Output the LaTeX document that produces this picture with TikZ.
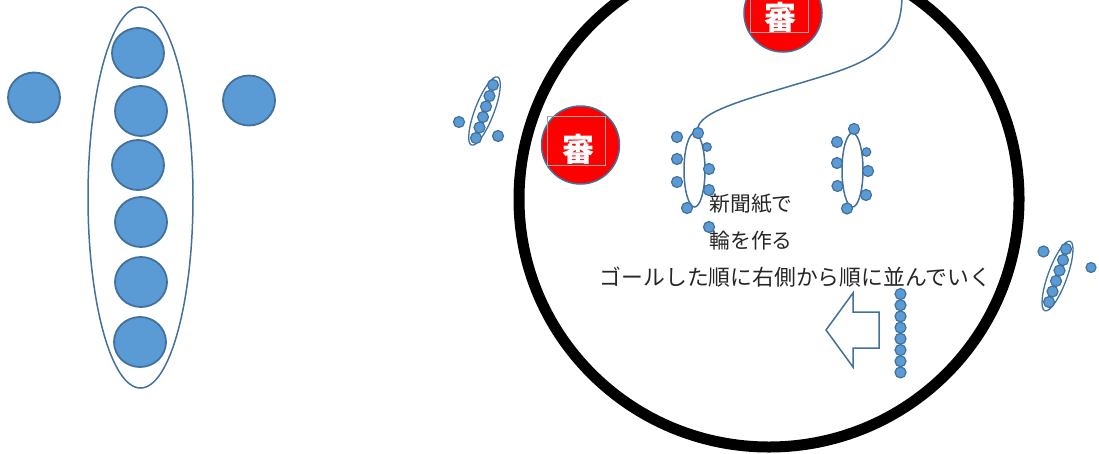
\documentclass[tikz,border=0pt]{standalone}
\usepackage{fontspec}
\newfontfamily\cjk{Noto Sans CJK JP}
\usetikzlibrary{shapes.geometric}
\definecolor{dotfill}{HTML}{5B9BD5}
\definecolor{dotline}{HTML}{41719C}
\definecolor{boxgray}{HTML}{A6A6A6}
\definecolor{textgray}{HTML}{262626}
\tikzset{
  bigdot/.style={ellipse, fill=dotfill, draw=dotline, line width=1.8pt, minimum width=52pt, minimum height=50pt, inner sep=0pt},
  dot/.style={circle, fill=dotfill, draw=dotline, line width=1.2pt, minimum size=11pt, inner sep=0pt},
  smalldot/.style={dot, minimum size=8.5pt},
  ring/.style={ellipse, draw=dotline, line width=1.5pt, inner sep=0pt},
  judge/.style={circle, fill=red, draw=dotline, line width=1.5pt, minimum size=78pt, inner sep=0pt},
  judgebox/.style={draw=boxgray, line width=1pt, minimum width=58pt, minimum height=49pt, inner sep=0pt},
  judgetext/.style={text=white, font=\cjk\bfseries\fontsize{32}{32}\selectfont, inner sep=0pt},
  label/.style={text=textgray, font=\cjk\fontsize{20.8}{21}\selectfont, inner sep=0pt},
  longlabel/.style={label, font=\cjk\fontsize{21.8}{22}\selectfont},
  arrowline/.style={draw=dotline, line width=1.5pt, line join=miter}
}
\begin{document}
\begin{tikzpicture}[x=1pt,y=-1pt]
\useasboundingbox (0,0) rectangle (1099,453);
\clip (0,0) rectangle (1099,453);
\fill[white] (0,0) rectangle (1099,453);

% big track
\draw[black, line width=11pt] (769,199) ellipse [x radius=250pt, y radius=248pt];

% left group
\node[ring, minimum width=105pt, minimum height=381pt] (lring) at (140.5,197.5) {};
\node[bigdot] (l1) at (138,53) {};
\node[bigdot] (l2) at (141,111) {};
\node[bigdot] (l3) at (138,165) {};
\node[bigdot] (l4) at (141,222) {};
\node[bigdot] (l5) at (141,282) {};
\node[bigdot] (l6) at (140,342) {};
\node[bigdot] (lL) at (34,97.5) {};
\node[bigdot] (lR) at (249,100.5) {};

% small tilted group (left)
\node[ring, minimum width=73pt, minimum height=19pt, rotate=69, line width=1.3pt] (sa) at (484.5,111) {};
\node[dot] (sa1) at (493,85) {};
\node[dot] (sa2) at (489.5,96) {};
\node[dot] (sa3) at (486,106.5) {};
\node[dot] (sa4) at (483,117) {};
\node[dot] (sa5) at (479.5,127.5) {};
\node[dot] (sa6) at (476,138) {};
\node[dot] (sa7) at (459,122) {};
\node[dot] (sa8) at (498,136) {};

% small tilted group (right)
\node[ring, minimum width=74pt, minimum height=19pt, rotate=70, line width=1.3pt] (sb) at (1057.5,276) {};
\node[dot] (sb1) at (1066,249) {};
\node[dot] (sb2) at (1063,260) {};
\node[dot] (sb3) at (1059.5,270.5) {};
\node[dot] (sb4) at (1056,281) {};
\node[dot] (sb5) at (1052.5,291.5) {};
\node[dot] (sb6) at (1049,302) {};
\node[dot] (sb7) at (1043.5,251.5) {};
\node[smalldot, minimum size=10pt] (sb8) at (1091,267.5) {};

% judges
\node[judge] (j1) at (783,13) {};
\node[judgebox] (j1b) at (779,7.5) {};
\node[judgetext] (j1t) at (780,17.5) {審};
\node[judge] (j2) at (580.5,145) {};
\node[judgebox] (j2b) at (576.5,140.5) {};
\node[judgetext] (j2t) at (578,149) {審};

% ring 1
\node[ring, minimum width=21pt, minimum height=74pt] (r1) at (694.5,170) {};
\node[dot] (r1a) at (677,137) {};
\node[dot] (r1b) at (677,159) {};
\node[dot] (r1c) at (677,182) {};
\node[dot] (r1d) at (698,133) {};
\node[smalldot] (r1e) at (707,147) {};
\node[dot] (r1f) at (709,169) {};
\node[dot] (r1g) at (709,190) {};
\node[dot] (r1h) at (687,208) {};
\node[dot] (r1i) at (709,227) {};

% ring 2
\node[ring, minimum width=21pt, minimum height=74pt] (r2) at (852.5,170) {};
\node[dot] (r2a) at (854,129) {};
\node[dot] (r2b) at (837,142) {};
\node[dot] (r2c) at (837,163) {};
\node[dot] (r2d) at (837.5,186) {};
\node[smalldot] (r2e) at (866.5,152) {};
\node[dot] (r2f) at (868,171) {};
\node[dot] (r2g) at (866,195) {};
\node[dot] (r2h) at (847,208.5) {};

% rope
\coordinate (ropeend) at (902,-3);
\draw[dotline, line width=1.5pt] (r1d.north) .. controls (704,108) and (760,96) .. (830,74)
  .. controls (880,58) and (901,40) .. (ropeend);

% queue line
\foreach \i in {0,...,7} {
  \node[dot] (q\i) at (900.5,{294+11.2*\i}) {};
}

% arrow
\coordinate (at) at (826,330);
\draw[arrowline] (at) -- (853,293) -- (853,312) -- (879,312) -- (879,348) -- (853,348) -- (853,367) -- cycle;

% texts
\node[label] (t1) at (751,204) {新聞紙で};
\node[label] (t2) at (751,241) {輪を作る};
\node[longlabel] (t3) at (795.5,277) {ゴールした順に右側から順に並んでいく};
\end{tikzpicture}
\end{document}
